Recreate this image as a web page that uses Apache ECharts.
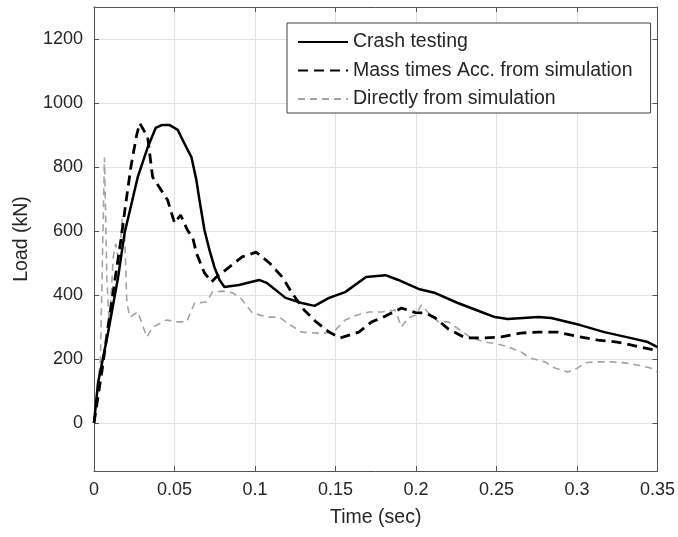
<!DOCTYPE html>
<html>
<head>
<meta charset="utf-8">
<script src="https://cdn.jsdelivr.net/npm/echarts@6/dist/echarts.min.js"></script>
<style>html,body{margin:0;padding:0;background:#fff}#c{width:678px;height:537px}</style>
</head>
<body>
<div id="c"></div>
<script>
// Tick labels
var xTicks = [0, 0.05, 0.1, 0.15, 0.2, 0.25, 0.3, 0.35];
var yTicks = [0, 200, 400, 600, 800, 1000, 1200];

// Series names
var seriesNames = ['Crash testing', 'Mass times Acc. from simulation', 'Directly from simulation'];

// Crash testing
var crashTime = [0, 0.0025, 0.0087, 0.015, 0.019, 0.0272, 0.0334, 0.0383, 0.042, 0.047, 0.052, 0.056, 0.0605, 0.0636, 0.0655, 0.0686, 0.0717, 0.0748, 0.078, 0.081, 0.09, 0.1026, 0.1076, 0.119, 0.129, 0.137, 0.146, 0.156, 0.169, 0.181, 0.189, 0.2016, 0.212, 0.226, 0.2406, 0.249, 0.257, 0.276, 0.284, 0.302, 0.317, 0.333, 0.344, 0.35];
var crashLoad = [0, 125, 281, 456, 594, 769, 862, 922, 931, 931, 916, 875, 831, 759, 697, 603, 541, 487, 447, 425, 431, 447, 437, 391, 375, 366, 391, 409, 456, 462, 447, 419, 406, 375, 347, 331, 325, 331, 328, 306, 284, 266, 253, 237];

// Mass times Acc. from simulation
var massTime = [0, 0.005, 0.0087, 0.0125, 0.0167, 0.0192, 0.0229, 0.0265, 0.0284, 0.0333, 0.0364, 0.0457, 0.05, 0.0538, 0.058, 0.0613, 0.0636, 0.0686, 0.073, 0.076, 0.084, 0.092, 0.1007, 0.109, 0.117, 0.123, 0.1305, 0.138, 0.146, 0.153, 0.1645, 0.1725, 0.181, 0.191, 0.1997, 0.206, 0.212, 0.22, 0.2306, 0.243, 0.253, 0.265, 0.276, 0.288, 0.299, 0.313, 0.325, 0.336, 0.348, 0.35];
var massLoad = [0, 165, 300, 430, 572, 666, 800, 900, 937, 894, 769, 697, 625, 650, 603, 580, 531, 469, 441, 456, 487, 519, 534, 500, 456, 406, 353, 316, 284, 266, 284, 316, 334, 359, 345, 344, 328, 294, 266, 266, 269, 281, 284, 284, 272, 259, 253, 241, 228, 225];

// Directly from simulation
var directTime = [0, 0.004, 0.0065, 0.008, 0.0095, 0.012, 0.0135, 0.0155, 0.0175, 0.019, 0.0204, 0.0223, 0.0272, 0.0328, 0.0365, 0.0451, 0.0513, 0.0575, 0.0625, 0.0699, 0.0736, 0.0798, 0.086, 0.0915, 0.0983, 0.108, 0.115, 0.123, 0.129, 0.138, 0.144, 0.15, 0.156, 0.163, 0.171, 0.179, 0.187, 0.191, 0.195, 0.1997, 0.2034, 0.2078, 0.214, 0.22, 0.2263, 0.2344, 0.243, 0.2467, 0.2529, 0.2591, 0.2653, 0.2708, 0.2801, 0.2863, 0.2943, 0.3005, 0.3049, 0.311, 0.321, 0.3296, 0.3376, 0.3457, 0.35];
var directLoad = [0, 200, 830, 450, 300, 520, 560, 500, 640, 600, 375, 331, 347, 269, 300, 322, 316, 316, 375, 378, 410, 412, 407, 388, 344, 331, 331, 303, 284, 281, 281, 291, 322, 337, 347, 347, 353, 300, 328, 337, 369, 344, 316, 316, 294, 266, 253, 250, 244, 234, 222, 203, 191, 172, 159, 172, 188, 191, 191, 188, 181, 172, 159];

function pairs(t, v) { return t.map(function (x, i) { return [x, v[i]]; }); }

var font = 'Liberation Sans, Arial, sans-serif';
var txt = '#262626';
var axisLineStyle = { color: '#555', width: 1 };

var chart = echarts.init(document.getElementById('c'), null, { renderer: 'canvas' });
chart.setOption({
  animation: false,
  backgroundColor: '#fff',
  grid: { left: 94, right: 18, top: 7, bottom: 66, containLabel: false },
  legend: {
    orient: 'vertical',
    left: 287, top: 23,
    padding: [9, 18, 4, 10],
    itemWidth: 50, itemHeight: 19, itemGap: 8.5,
    backgroundColor: '#fff',
    borderColor: '#444', borderWidth: 1,
    itemStyle: { opacity: 0 },
    textStyle: { fontSize: 19.5, lineHeight: 19, color: txt, fontFamily: font },
    data: seriesNames
  },
  xAxis: [{
    type: 'value', min: 0, max: 0.35, interval: 0.05,
    name: 'Time (sec)', nameLocation: 'middle', nameGap: 37,
    nameTextStyle: { fontSize: 19.5, color: txt, fontFamily: font },
    axisLine: { show: true, onZero: false, lineStyle: axisLineStyle },
    axisTick: { show: true, inside: true, length: 5, lineStyle: axisLineStyle },
    axisLabel: { fontSize: 18, color: txt, fontFamily: font, margin: 10,
      formatter: function (v) { return String(+(+v).toFixed(2)); } },
    splitLine: { show: true, lineStyle: { color: '#e3e3e3', width: 1 } }
  }, {
    type: 'value', position: 'top', min: 0, max: 0.35, interval: 0.05,
    axisLine: { show: true, onZero: false, lineStyle: axisLineStyle },
    axisTick: { show: true, inside: true, length: 5, lineStyle: axisLineStyle },
    axisLabel: { show: false }, splitLine: { show: false }
  }],
  yAxis: [{
    type: 'value', min: -150, max: 1300,
    name: 'Load (kN)', nameLocation: 'middle', nameGap: 51,
    nameTextStyle: { fontSize: 19.5, color: txt, fontFamily: font },
    axisLine: { show: true, onZero: false, lineStyle: axisLineStyle },
    axisTick: { show: true, inside: true, length: 5, lineStyle: axisLineStyle, customValues: yTicks },
    axisLabel: { fontSize: 18, color: txt, fontFamily: font, margin: 11, customValues: yTicks,
      formatter: function (v) { return String(Math.round(+v)); } },
    splitLine: { show: true, lineStyle: { color: '#e3e3e3', width: 1 } }
  }, {
    type: 'value', position: 'right', min: -150, max: 1300,
    axisLine: { show: true, onZero: false, lineStyle: axisLineStyle },
    axisTick: { show: true, inside: true, length: 5, lineStyle: axisLineStyle, customValues: yTicks },
    axisLabel: { show: false, customValues: yTicks }, splitLine: { show: false }
  }],
  series: [{
    name: seriesNames[0], type: 'line', xAxisIndex: 0, yAxisIndex: 0,
    symbol: 'none', showSymbol: false,
    lineStyle: { color: '#000', width: 2.5, type: 'solid' },
    itemStyle: { color: '#000' },
    data: pairs(crashTime, crashLoad), z: 5
  }, {
    name: seriesNames[1], type: 'line', xAxisIndex: 0, yAxisIndex: 0,
    symbol: 'none', showSymbol: false,
    lineStyle: { color: '#000', width: 2.8, type: [10, 6] },
    itemStyle: { color: '#000' },
    data: pairs(massTime, massLoad), z: 4
  }, {
    name: seriesNames[2], type: 'line', xAxisIndex: 0, yAxisIndex: 0,
    symbol: 'none', showSymbol: false,
    lineStyle: { color: '#a3a3a3', width: 1.6, type: [7, 5] },
    itemStyle: { color: '#a3a3a3' },
    data: pairs(directTime, directLoad), z: 3
  }]
});
</script>
</body>
</html>
